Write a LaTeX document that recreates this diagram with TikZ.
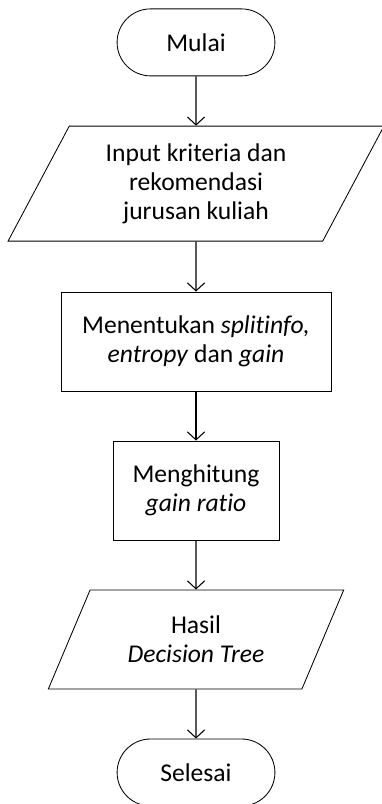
\documentclass[tikz,border=0pt]{standalone}
\usepackage{fontspec}
\setmainfont{Carlito}[Ligatures=NoCommon]
\usetikzlibrary{shapes.geometric,shapes.misc,arrows.meta}

\begin{document}
\begin{tikzpicture}[
    every node/.style={font=\fontsize{18.2}{20.8}\selectfont,align=center,line width=0.6pt},
    term/.style={draw,rounded rectangle,minimum width=4.18cm,minimum height=1.675cm},
    io/.style={draw,trapezium,trapezium left angle=63,trapezium right angle=117,trapezium stretches=true},
    proc/.style={draw,rectangle,minimum height=2.475cm},
    arr/.style={line width=0.75pt,-{Straight Barb[length=2mm,width=4.3mm]}}
]
    \useasboundingbox (0,0) rectangle (9.525,20.1);

    \node[term] (mulai) at (4.9,19.04) {Mulai};
    \node[io,minimum width=9.4cm,minimum height=2.875cm] (input) at (4.9,15.51) {Input kriteria dan\\rekomendasi\\jurusan kuliah};
    \node[proc,minimum width=6.75cm] (split) at (4.9,11.5625) {Menentukan \textit{splitinfo,}\\\textit{entropy} dan \textit{gain}};
    \node[proc,minimum width=4.15cm] (ratio) at (4.9,7.8375) {Menghitung\\\textit{gain ratio}};
    \node[io,minimum width=7.4cm,minimum height=2.475cm] (hasil) at (4.9,4.1125) {Hasil\\\textit{Decision Tree}};
    \node[term] (selesai) at (4.9,0.7875) {Selesai};
    \draw[arr] (mulai) edge (input);
    \draw[arr] (input) edge (split);
    \draw[arr] (split) edge (ratio);
    \draw[arr] (ratio) edge (hasil);
    \draw[arr] (hasil) edge (selesai);
    \end{tikzpicture}
\end{document}
